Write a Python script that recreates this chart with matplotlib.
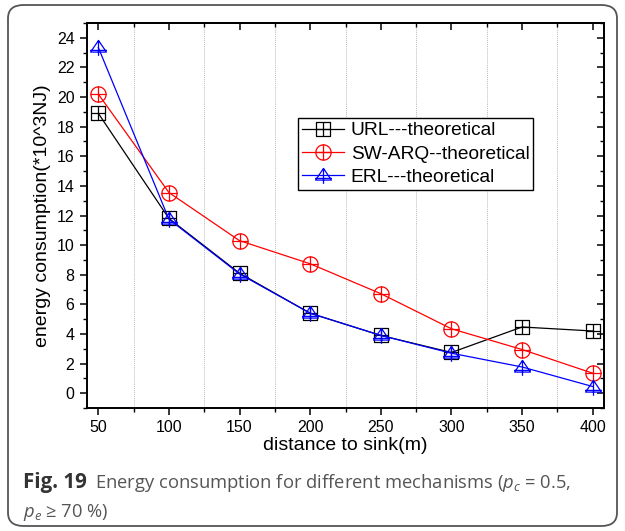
import numpy as np
import matplotlib
matplotlib.use("Agg")
import matplotlib.pyplot as plt
from matplotlib.path import Path
from matplotlib.patches import FancyBboxPatch
from matplotlib.ticker import MultipleLocator

plt.rcParams['font.family'] = ['Liberation Sans', 'DejaVu Sans']
plt.rcParams['mathtext.fontset'] = 'custom'
plt.rcParams['mathtext.rm'] = 'Open Sans'
plt.rcParams['mathtext.it'] = 'Open Sans:italic'

distance = [50, 100, 150, 200, 250, 300, 350, 400]
url_theoretical = [18.9, 11.8, 8.1, 5.4, 3.9, 2.75, 4.47, 4.2]
swarq_theoretical = [20.2, 13.55, 10.3, 8.74, 6.72, 4.35, 2.95, 1.35]
erl_theoretical = [23.35, 11.75, 8.05, 5.4, 3.9, 2.7, 1.77, 0.45]
labels = ["URL---theoretical", "SW-ARQ--theoretical", "ERL---theoretical"]
colors = ["black", "red", "blue"]


def compound_marker(outline, extra_segments):
    verts, codes = [], []
    verts += outline + [outline[0]]
    codes += [Path.MOVETO] + [Path.LINETO] * (len(outline) - 1) + [Path.CLOSEPOLY]
    for a, b in extra_segments:
        verts += [a, b]
        codes += [Path.MOVETO, Path.LINETO]
    return Path(verts, codes)


square_plus = compound_marker([(-1, -1), (1, -1), (1, 1), (-1, 1)],
                              [((-1, 0), (1, 0)), ((0, -1), (0, 1))])
theta = np.linspace(0, 2 * np.pi, 41)[:-1]
circle_plus = compound_marker([(np.cos(t), np.sin(t)) for t in theta],
                              [((-1, 0), (1, 0)), ((0, -1), (0, 1))])
tri_plus = compound_marker([(0, 0.85), (-0.95, -0.55), (0.95, -0.55)],
                           [((-1, -0.35), (1, -0.35)), ((0, 0.85), (0, -1))])

markers = [square_plus, circle_plus, tri_plus]
msizes = [9.5, 11, 12]

fig = plt.figure(figsize=(6.25, 5.31), dpi=100)
fig.patch.set_facecolor('white')

frame = FancyBboxPatch((8 / 625, 5 / 531), 609 / 625, 521 / 531,
                       boxstyle="round,pad=0,rounding_size=0.025",
                       transform=fig.transFigure, facecolor='white',
                       edgecolor='#555555', linewidth=1.3, zorder=-10)
fig.patches.append(frame)

ax = fig.add_axes([87 / 625, 1 - 408 / 531, 517 / 625, 385 / 531])
ax.set_zorder(2)
ax.set_facecolor('none')

for ys, lab, c, m, ms in zip([url_theoretical, swarq_theoretical, erl_theoretical],
                             labels, colors, markers, msizes):
    ax.plot(distance, ys, color=c, linewidth=0.9, marker=m, markersize=ms,
            markerfacecolor='none', markeredgecolor=c, markeredgewidth=0.9,
            label=lab)

ax.set_xlim(42, 408)
ax.set_ylim(-1, 25)
ax.xaxis.set_major_locator(MultipleLocator(50))
ax.xaxis.set_minor_locator(MultipleLocator(25))
ax.yaxis.set_major_locator(MultipleLocator(2))
ax.yaxis.set_minor_locator(MultipleLocator(1))

# vertical dotted guides at the minor x positions
for xm in np.arange(75, 400, 50):
    ax.axvline(xm, color='#bbbbbb', linewidth=0.7, linestyle=(0, (1, 1)), zorder=0)

for s in ax.spines.values():
    s.set_linewidth(1.4)

ax.tick_params(which='major', direction='out', length=5, width=1.1,
               labelsize=11.5, pad=4)
ax.tick_params(which='minor', direction='out', length=3, width=1.0)

# mirrored ticks on top and right pointing inward
top = ax.secondary_xaxis('top')
top.xaxis.set_major_locator(MultipleLocator(50))
top.xaxis.set_minor_locator(MultipleLocator(25))
top.tick_params(which='major', direction='in', length=5, width=1.1, labeltop=False)
top.tick_params(which='minor', direction='in', length=3, width=1.0)
right = ax.secondary_yaxis('right')
right.yaxis.set_major_locator(MultipleLocator(2))
right.yaxis.set_minor_locator(MultipleLocator(1))
right.tick_params(which='major', direction='in', length=5, width=1.1, labelright=False)
right.tick_params(which='minor', direction='in', length=3, width=1.0)
for sa in (top, right):
    for s in sa.spines.values():
        s.set_linewidth(1.4)

ax.set_xlabel("distance to sink(m)", fontsize=14, labelpad=1)
ax.set_ylabel("energy consumption(*10^3NJ)", fontsize=14)
ax.yaxis.set_label_coords(-0.07, 0.5)

leg = ax.legend(loc='upper left', bbox_to_anchor=(0.408, 0.753), fontsize=13.8,
                frameon=True, fancybox=False, framealpha=1, edgecolor='black',
                borderpad=0.2, labelspacing=0.3, handlelength=2.2,
                handletextpad=0.35, borderaxespad=0)
leg.get_frame().set_linewidth(1.0)

fig.text(23 / 625, 1 - 488 / 531, "Fig. 19", fontsize=14.8, fontweight='bold',
         family=['Open Sans', 'DejaVu Sans'], color='#333333')
fig.text(95 / 625, 1 - 488 / 531,
         r"Energy consumption for different mechanisms ($p_c$ = 0.5,",
         fontsize=13.2, family=['Open Sans', 'DejaVu Sans'], color='#555555')
fig.text(23 / 625, 1 - 517 / 531, r"$p_e$ ≥ 70 %)", fontsize=13.2,
         family=['Open Sans', 'DejaVu Sans'], color='#555555')

fig.savefig("out.png", dpi=100, facecolor='white')
